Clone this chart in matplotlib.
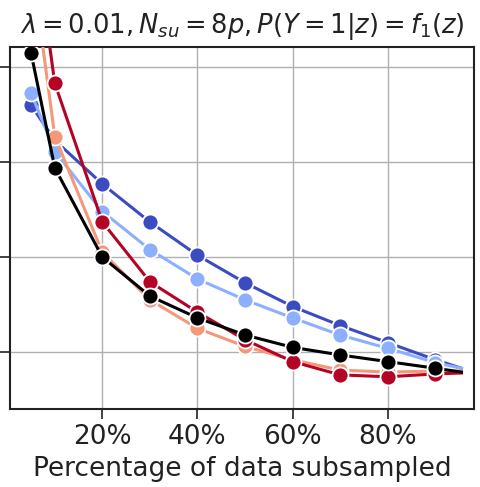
import numpy as np
import matplotlib
matplotlib.use("Agg")
import matplotlib.pyplot as plt
from matplotlib.ticker import PercentFormatter

# subsample percentages (markers) and the end point of each drawn line
pct = [5, 10, 20, 30, 40, 50, 60, 70, 80, 90]
pct_end = 95.5

# y values (arbitrary units, y tick labels are cut off)
dark_blue = [3.60, 3.23, 2.77, 2.37, 2.02, 1.73, 1.48, 1.28, 1.10, 0.92]
light_blue = [3.73, 3.11, 2.48, 2.08, 1.77, 1.55, 1.36, 1.18, 1.04, 0.89]
salmon = [5.15, 3.27, 2.05, 1.55, 1.25, 1.06, 0.92, 0.81, 0.79, 0.80]
dark_red = [5.65, 3.83, 2.37, 1.74, 1.42, 1.13, 0.90, 0.76, 0.74, 0.77]
black = [4.15, 2.94, 2.00, 1.59, 1.36, 1.18, 1.05, 0.97, 0.90, 0.83]
end_vals = [0.83, 0.83, 0.80, 0.78, 0.79]

series = [dark_blue, light_blue, salmon, dark_red, black]
colors = ['#3b4cc0', '#8db0fe', '#f4987a', '#b40426', 'black']
yticks = [1, 2, 3, 4]

fig = plt.figure(figsize=(4.81, 4.87), dpi=100)
ax = fig.add_axes([0.021, 0.160, 0.964, 0.743])

for i, (vals, c) in enumerate(zip(series, colors)):
    ax.plot(pct + [pct_end], vals + [end_vals[i]], color=c, lw=2.2, zorder=2 + i)
    ax.plot(pct, vals, 'o', color=c, ms=11.5, mec='white', mew=1.3, zorder=2 + i)

ax.set_xlim(0.6, 98.1)
ax.set_ylim(0.4, 4.21)
ax.set_xticks([20, 40, 60, 80])
ax.xaxis.set_major_formatter(PercentFormatter(decimals=0))
ax.set_yticks(yticks)
ax.set_yticklabels([])
ax.tick_params(axis='both', labelsize=19, length=7, width=1.2, colors='#222222', pad=4)
ax.grid(True, color='#b0b0b0', lw=1)
ax.set_axisbelow(True)
for s in ax.spines.values():
    s.set_linewidth(1.5)
    s.set_color('#222222')

ax.set_xlabel('Percentage of data subsampled', fontsize=19, labelpad=4, color='#222222')
ax.set_title(r'$\lambda = 0.01, N_{su} = 8p, P(Y=1|z) = f_1(z)$', fontsize=18.5, pad=10, color='#222222')

fig.savefig('out.png', dpi=100)
